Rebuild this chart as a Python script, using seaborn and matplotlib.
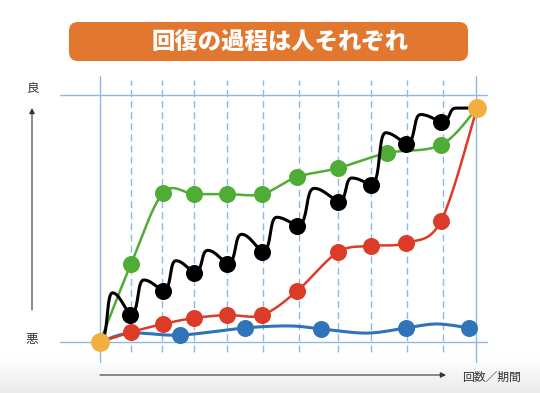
import numpy as np
import matplotlib
matplotlib.use("Agg")
import matplotlib.pyplot as plt
from matplotlib.patches import FancyBboxPatch
import seaborn as sns

# x = time (from the start line), y = condition score 0 (悪) .. 100 (良)
green_x = [0, 31, 63, 94, 127, 162, 197, 238, 287, 341, 377]
green_y = [0, 31.6, 60.3, 59.9, 59.9, 59.9, 66.8, 70.4, 76.5, 79.8, 94.7]

black_x = [0, 30, 63, 94, 127, 162, 197, 238, 271, 306, 341, 377]
black_y = [0, 10.9, 20.6, 27.9, 31.6, 36.4, 47.0, 56.7, 63.6, 80.2, 89.1, 94.7]
black_crest = [9.0, 4.5, 5.0, 5.5, 7.2, 3.5, 5.5, 2.8, 4.5, 3.0, 0]   # wave top above next point

red_x = [0, 31, 63, 94, 127, 162, 197, 238, 271, 306, 341, 377]
red_y = [0, 4.0, 7.3, 9.7, 10.9, 10.9, 20.6, 36.4, 38.9, 40.1, 49.0, 94.7]

blue_x = [0, 30, 80, 145, 190, 221, 267, 306, 337, 369]
blue_y = [0, 3.6, 2.8, 5.7, 6.5, 5.3, 3.6, 5.7, 7.3, 5.7]
blue_dots = [2, 3, 5, 7, 9]

start_end_x = [0, 377]
start_end_y = [0, 94.7]

grid_x = [0, 31, 62, 94, 127, 163, 199, 238, 271, 307, 343, 376]

title = "回復の過程は人それぞれ"
good_label = "良"
bad_label = "悪"
x_label = "回数／期間"

GREEN = "#4FAD35"
RED = "#DC3C27"
BLUE = "#2F74B8"
ORANGE = "#F3AF3D"
GRID = "#8DB9E2"


def bez(p0, p1, p2, p3, n=24):
    t = np.linspace(0, 1, n)[:, None]
    return (1 - t) ** 3 * p0 + 3 * (1 - t) ** 2 * t * p1 + 3 * (1 - t) * t ** 2 * p2 + t ** 3 * p3


def smooth(xs, ys):
    """Catmull-Rom style smoothing through the points."""
    p = np.column_stack([xs, ys]).astype(float)
    p = np.vstack([p[0], p, p[-1]])
    out = []
    for i in range(1, len(p) - 2):
        p0, p1, p2, p3 = p[i - 1], p[i], p[i + 1], p[i + 2]
        seg = bez(p1, p1 + (p2 - p0) / 6, p2 - (p3 - p1) / 6, p2)
        out.append(seg if i == 1 else seg[1:])
    out = np.vstack(out)
    return out[:, 0], out[:, 1]


def wave(xs, ys, crest):
    """Up-and-over path between consecutive points."""
    out = []
    for i in range(len(xs) - 1):
        a = np.array([xs[i], ys[i]], float)
        b = np.array([xs[i + 1], ys[i + 1]], float)
        c = np.array([a[0] + 0.42 * (b[0] - a[0]), b[1] + crest[i]])
        d = c[0] - a[0]
        out.append(bez(a, np.array([a[0] + 0.7 * d, a[1]]), np.array([a[0] + 0.45 * d, c[1]]), c))
        w = b[0] - c[0]
        out.append(bez(c, np.array([c[0] + 0.3 * w, c[1]]),
                       np.array([b[0] - 0.45 * w, b[1] + 0.55 * crest[i]]), b)[1:])
    out = np.vstack(out)
    return out[:, 0], out[:, 1]


sns.set_theme(style="white")
plt.rcParams['font.family'] = ['Noto Sans CJK JP', 'DejaVu Sans']

fig = plt.figure(figsize=(5.4, 3.93), dpi=100)

# soft grey fade at the bottom
bg = fig.add_axes([0, 0, 1, 1], zorder=-2)
grad = np.ones((393, 1))
grad[355:, 0] = np.linspace(1.0, 0.92, 38)
bg.imshow(grad, cmap="gray", vmin=0, vmax=1, aspect="auto", extent=(0, 540, 393, 0))
bg.axis("off")

# chart axes: 1 unit x = 1 px, y 0..100 spans the two horizontal rules
ax = fig.add_axes([0, 0, 1, 1])
ax.patch.set_alpha(0)
ax.set_xlim(-100, 440)
ax.set_ylim(-51 / 2.47, 342 / 2.47)
ax.axis("off")

for i, gx in enumerate(grid_x):
    if i == 0 or i == len(grid_x) - 1:
        ax.plot([gx, gx], [-8.1, 107.7], color=GRID, lw=1.0, zorder=1)
    else:
        ax.plot([gx, gx], [-4.0, 106.1], color=GRID, lw=1.0, ls=(0, (5, 3)), zorder=1)
for gy in (0, 100):
    ax.plot([-40, 387], [gy, gy], color=GRID, lw=1.0, zorder=1)

bx, by = smooth(blue_x, blue_y)
sns.lineplot(x=bx, y=by, sort=False, estimator=None, color=BLUE, lw=2.2, ax=ax, zorder=2)
sns.scatterplot(x=[blue_x[i] for i in blue_dots], y=[blue_y[i] for i in blue_dots],
                s=150, color=BLUE, linewidth=0, ax=ax, zorder=3)

rx, ry = smooth(red_x, red_y)
sns.lineplot(x=rx, y=ry, sort=False, estimator=None, color=RED, lw=1.8, ax=ax, zorder=4)
sns.scatterplot(x=red_x[1:-1], y=red_y[1:-1], s=150, color=RED, linewidth=0, ax=ax, zorder=5)

gx_, gy_ = smooth(green_x, green_y)
sns.lineplot(x=gx_, y=gy_, sort=False, estimator=None, color=GREEN, lw=1.8, ax=ax, zorder=6)
sns.scatterplot(x=green_x[1:-1], y=green_y[1:-1], s=150, color=GREEN, linewidth=0, ax=ax, zorder=7)

kx, ky = wave(black_x, black_y, black_crest)
sns.lineplot(x=kx, y=ky, sort=False, estimator=None, color="black", lw=2.2, ax=ax, zorder=8)
sns.scatterplot(x=black_x[1:-1], y=black_y[1:-1], s=150, color="black", linewidth=0, ax=ax, zorder=9)

sns.scatterplot(x=start_end_x, y=start_end_y, s=185, color=ORANGE, linewidth=0, ax=ax, zorder=10)

# decorations in pixel coordinates
deco = fig.add_axes([0, 0, 1, 1], zorder=5)
deco.patch.set_alpha(0)
deco.set_xlim(0, 540)
deco.set_ylim(393, 0)
deco.axis("off")

deco.add_patch(FancyBboxPatch((69, 22), 399, 39, boxstyle="round,pad=0,rounding_size=9",
                              fc="#E2782F", ec="none"))
deco.text(280, 42, title, ha="center", va="center", color="white",
          fontsize=16.8, fontweight=900)

arrow = dict(arrowstyle="-|>", color="#333333", lw=0.8, mutation_scale=8, shrinkA=0, shrinkB=0)
deco.annotate("", xy=(32, 108), xytext=(32, 310), arrowprops=arrow)
deco.annotate("", xy=(446, 375), xytext=(100, 375), arrowprops=arrow)

deco.text(32, 88, good_label, ha="center", va="center", fontsize=9, color="#333333")
deco.text(32, 340, bad_label, ha="center", va="center", fontsize=9, color="#333333")
deco.text(491, 377, x_label, ha="center", va="center", fontsize=8.5, color="#333333")

fig.savefig("out.png", dpi=100)
